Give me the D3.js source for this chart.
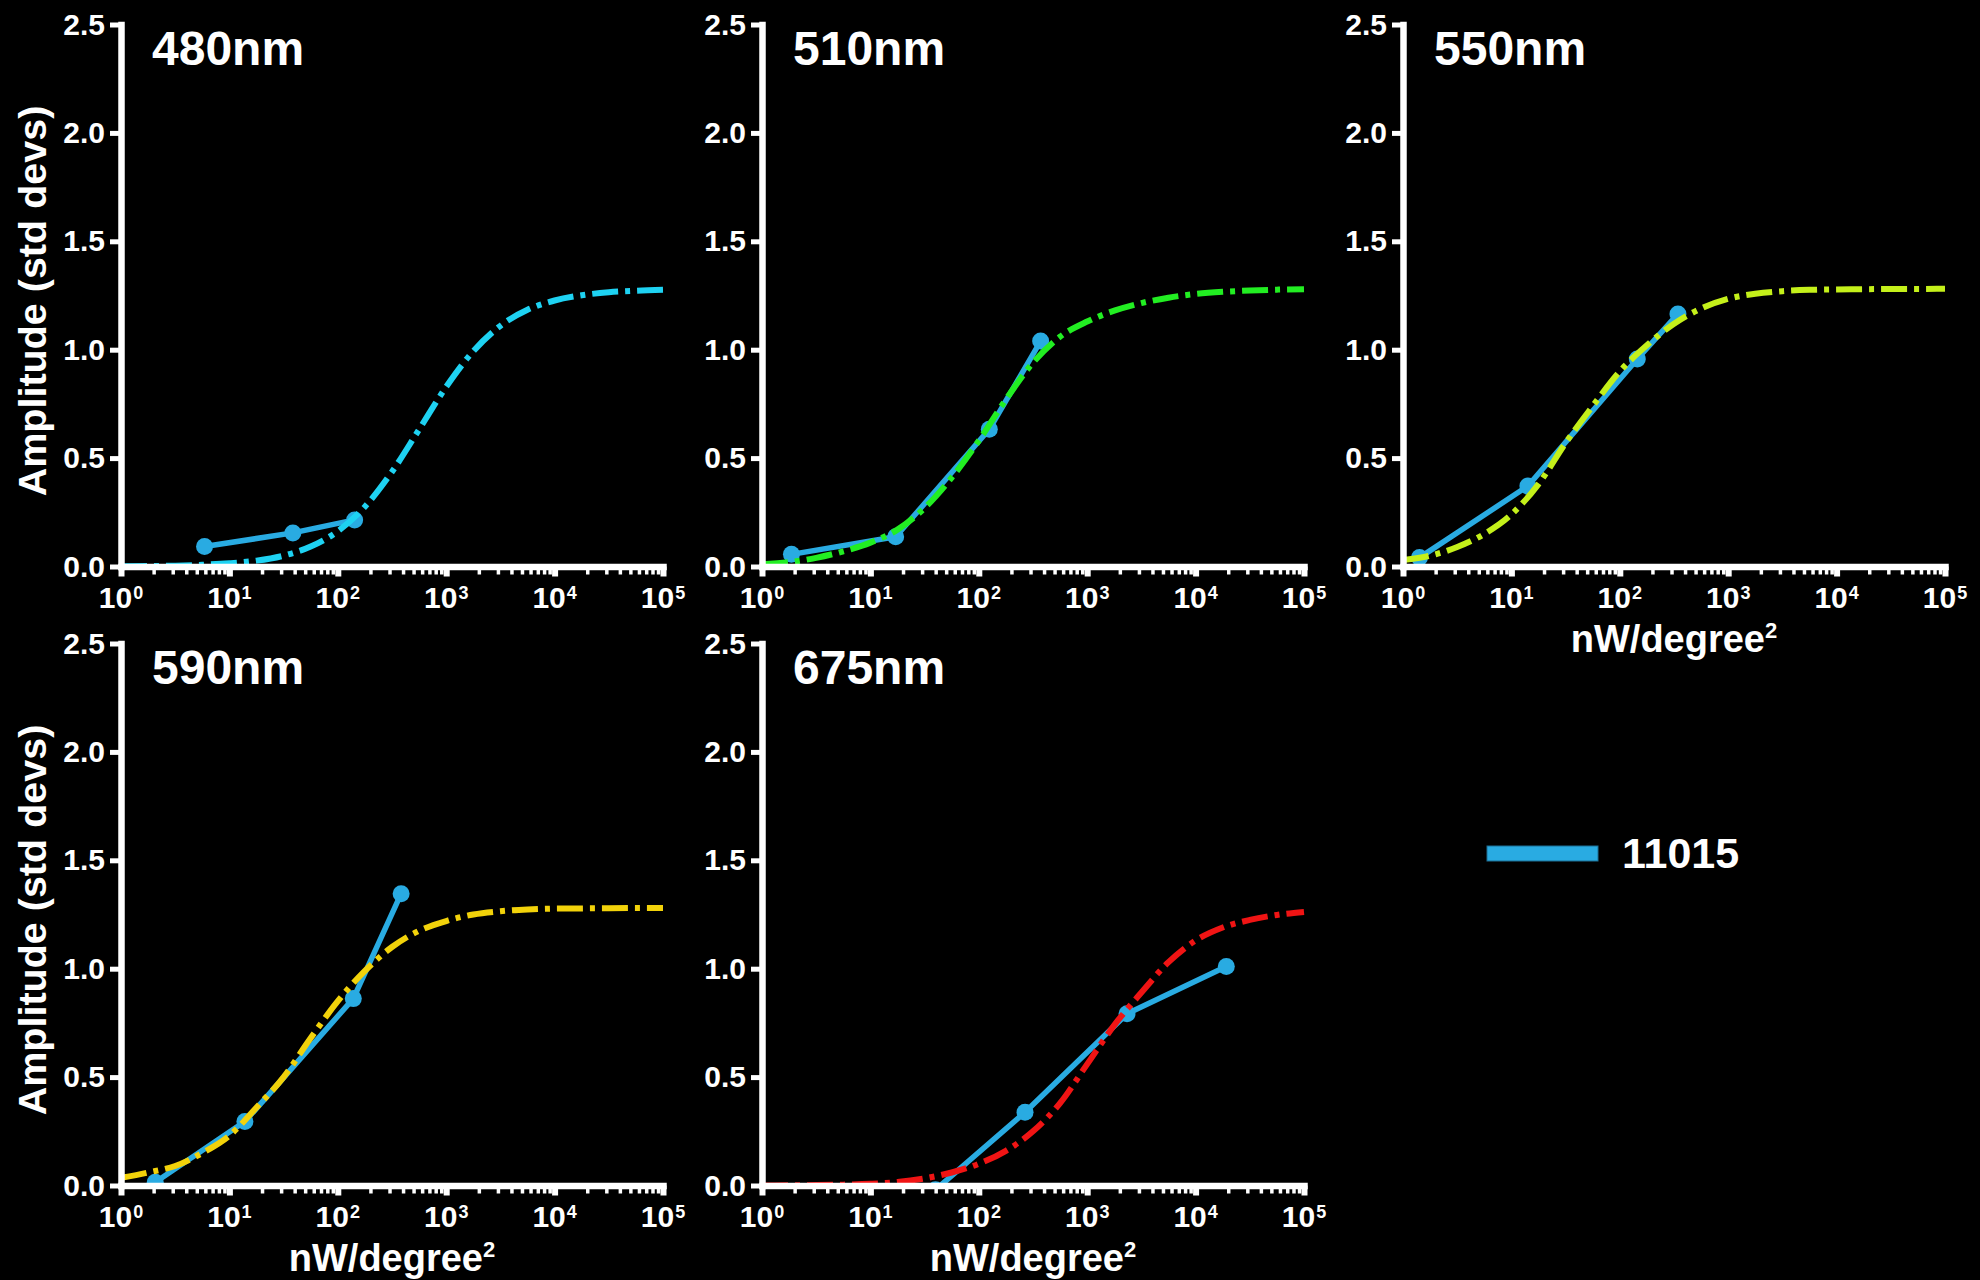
<!DOCTYPE html>
<html><head><meta charset="utf-8">
<script src="https://cdn.jsdelivr.net/npm/d3@7"></script>
<style>
body{margin:0;background:#000}
svg{display:block}
text{font-family:"Liberation Sans",Arial,sans-serif;font-weight:bold;fill:#fff}
</style></head><body>
<svg id="c" width="1980" height="1280"></svg>
<script>
// ---- data ----
const panelTitles = ["480nm", "510nm", "550nm", "590nm", "675nm"];
const fitColors = ["#1ed2f2", "#22ee22", "#c4f01a", "#f2d20a", "#f01414"];
const seriesName = "11015";
const seriesColor = "#29abe2";

// measured points (x: nW/degree^2, y: amplitude in std devs)
const x480 = [5.9, 38.5, 143];
const y480 = [0.092, 0.155, 0.215];
const x510 = [1.87, 17.1, 125, 372];
const y510 = [0.056, 0.137, 0.633, 1.04];
const x550 = [1.42, 14.2, 145, 344];
const y550 = [0.041, 0.371, 0.957, 1.165];
const x590 = [2.07, 13.9, 139, 384];
const y590 = [0.015, 0.295, 0.862, 1.346];
const x675 = [39.8, 267, 2330, 19200];
const y675 = [-0.02, 0.338, 0.792, 1.01];

// fitted curves at quarter-decade positions
const fitX = [1, 1.778, 3.162, 5.623, 10, 17.78, 31.62, 56.23, 100, 177.8, 316.2, 562.3,
              1000, 1778, 3162, 5623, 10000, 17783, 31623, 56234, 100000];
const fit480 = [0.001, 0.002, 0.004, 0.008, 0.015, 0.027, 0.05, 0.092, 0.163, 0.276, 0.437, 0.632,
                0.829, 0.993, 1.11, 1.184, 1.227, 1.251, 1.265, 1.272, 1.276];
const fit510 = [0.01, 0.02, 0.04, 0.07, 0.11, 0.17, 0.27, 0.41, 0.58, 0.77, 0.94, 1.06,
                1.13, 1.18, 1.215, 1.24, 1.257, 1.267, 1.273, 1.277, 1.279];
const fit550 = [0.03, 0.05, 0.09, 0.15, 0.24, 0.38, 0.57, 0.74, 0.9, 1.02, 1.12, 1.19,
                1.235, 1.258, 1.27, 1.276, 1.278, 1.279, 1.28, 1.28, 1.281];
const fit590 = [0.035, 0.06, 0.09, 0.15, 0.23, 0.36, 0.5, 0.68, 0.85, 0.99, 1.1, 1.175,
                1.22, 1.25, 1.265, 1.273, 1.277, 1.278, 1.279, 1.28, 1.28];
const fit675 = [0.0, 0.001, 0.002, 0.004, 0.008, 0.016, 0.033, 0.06, 0.1, 0.16, 0.25, 0.38,
                0.56, 0.74, 0.89, 1.03, 1.13, 1.19, 1.225, 1.248, 1.262];

const yTicks = [0, 0.5, 1.0, 1.5, 2.0, 2.5];
const xDecades = [1, 10, 100, 1000, 10000, 100000];
const xExponents = ["0", "1", "2", "3", "4", "5"];
const yTitle = "Amplitude (std devs)";
const xTitleMain = "nW/degree";
const xTitleSup = "2";

const dataX = [x480, x510, x550, x590, x675];
const dataY = [y480, y510, y550, y590, y675];
const fitY = [fit480, fit510, fit550, fit590, fit675];

// ---- layout ----
const colX = [121, 762, 1403], rowY = [24.5, 643.5], W = 542, H = 542;
const layout = [[0, 0], [1, 0], [2, 0], [0, 1], [1, 1]];
const showYTitle = [true, false, false, true, false];
const showXTitle = [false, false, true, true, true];

const svg = d3.select("#c");
svg.append("rect").attr("width", 1980).attr("height", 1280).attr("fill", "#000");

const minorTicks = [];
xDecades.slice(0, -1).forEach(d => { for (let k = 2; k <= 9; k++) minorTicks.push(k * d); });

panelTitles.forEach((title, i) => {
  const [c, r] = layout[i];
  const g = svg.append("g").attr("transform", `translate(${colX[c]},${rowY[r]})`);
  const x = d3.scaleLog().domain([1, 1e5]).range([0, W]);
  const y = d3.scaleLinear().domain([0, 2.5]).range([H, 0]);

  const clipId = "clip" + i;
  g.append("clipPath").attr("id", clipId).append("rect")
    .attr("x", 0).attr("y", -10).attr("width", W + 10).attr("height", H + 10);
  const plot = g.append("g").attr("clip-path", `url(#${clipId})`);

  const pts = dataX[i].map((v, k) => [v, dataY[i][k]]);
  plot.append("path").datum(pts)
    .attr("d", d3.line().x(d => x(d[0])).y(d => y(d[1])))
    .attr("fill", "none").attr("stroke", seriesColor).attr("stroke-width", 5.5)
    .attr("stroke-linejoin", "round");
  plot.selectAll("circle.m").data(pts).enter().append("circle")
    .attr("cx", d => x(d[0])).attr("cy", d => y(d[1])).attr("r", 8.5)
    .attr("fill", seriesColor);

  const fpts = fitX.map((v, k) => [v, fitY[i][k]]);
  plot.append("path").datum(fpts)
    .attr("d", d3.line().curve(d3.curveMonotoneX).x(d => x(d[0])).y(d => y(d[1])))
    .attr("fill", "none").attr("stroke", fitColors[i]).attr("stroke-width", 6)
    .attr("stroke-dasharray", "26,7,5,7");

  // y axis
  const ya = g.append("g").call(d3.axisLeft(y).tickValues(yTicks).tickSize(11)
    .tickSizeOuter(0).tickPadding(5).tickFormat(d3.format(".1f")));
  ya.select(".domain").attr("stroke", "#fff").attr("stroke-width", 6.5).attr("stroke-linecap", "square");
  ya.selectAll(".tick line").attr("stroke", "#fff").attr("stroke-width", 5);
  ya.selectAll(".tick text").attr("fill", "#fff").style("font-size", "30px")
    .style("font-family", '"Liberation Sans",Arial,sans-serif').style("font-weight", "bold");

  // x axis minor
  const xm = g.append("g").attr("transform", `translate(0,${H})`)
    .call(d3.axisBottom(x).tickValues(minorTicks).tickSize(8).tickFormat(""));
  xm.select(".domain").remove();
  xm.selectAll(".tick line").attr("stroke", "#fff").attr("stroke-width", 3.5);
  // x axis major
  const xa = g.append("g").attr("transform", `translate(0,${H})`)
    .call(d3.axisBottom(x).tickValues(xDecades).tickSize(10).tickSizeOuter(0).tickFormat(""));
  xa.select(".domain").attr("stroke", "#fff").attr("stroke-width", 6.5).attr("stroke-linecap", "square");
  xa.selectAll(".tick line").attr("stroke", "#fff").attr("stroke-width", 6);
  xDecades.forEach((v, k) => {
    const t = g.append("text").attr("x", x(v)).attr("y", H + 41.5)
      .attr("text-anchor", "middle").style("font-size", "30px");
    t.append("tspan").text("10");
    t.append("tspan").attr("dy", -9).attr("dx", 1).style("font-size", "18px").text(xExponents[k]);
  });

  // panel title
  g.append("text").attr("x", 31).attr("y", 40.5).style("font-size", "48px").text(title);

  if (showYTitle[i]) {
    g.append("text").attr("transform", `translate(${46 - colX[c]},${H / 2 + 5.5}) rotate(-90)`)
      .attr("text-anchor", "middle").style("font-size", "39.5px").text(yTitle);
  }
  if (showXTitle[i]) {
    const t = g.append("text").attr("x", W / 2).attr("y", H + 85.5)
      .attr("text-anchor", "middle").style("font-size", "38px");
    t.append("tspan").text(xTitleMain);
    t.append("tspan").attr("dy", -14).style("font-size", "22px").text(xTitleSup);
  }
});

// legend
const leg = svg.append("g").attr("transform", "translate(1487,846)");
leg.append("rect").attr("x", 0).attr("y", 0).attr("width", 111).attr("height", 15)
  .attr("fill", seriesColor).attr("stroke", "#1d6f94").attr("stroke-width", 1);
leg.append("text").attr("x", 135).attr("y", 22).style("font-size", "43px").text(seriesName);
</script>
</body></html>
